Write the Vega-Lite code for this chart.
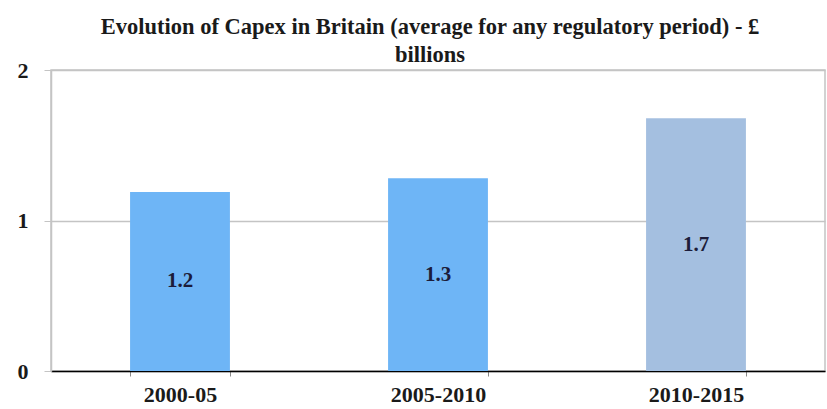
{
  "$schema": "https://vega.github.io/schema/vega-lite/v6.json",
  "width": 774,
  "height": 301,
  "autosize": {"type": "none"},
  "padding": {"left": 51, "top": 70, "right": 2, "bottom": 38},
  "background": "white",
  "title": {
    "text": ["Evolution of Capex in Britain (average for any regulatory period) - £", "billions"],
    "font": "Liberation Serif",
    "fontSize": 22.5,
    "fontWeight": "bold",
    "color": "#1a1a1a",
    "anchor": "middle",
    "dx": -8,
    "offset": -7,
    "lineHeight": 28
  },
  "config": {
    "view": {"stroke": "#c4c4c4", "strokeWidth": 1.5},
    "font": "Liberation Serif",
    "axisY": {
      "labelOverlap": false,
      "labelFont": "Liberation Serif",
      "labelFontSize": 22,
      "labelFontWeight": "bold",
      "labelColor": "#1a1a1a",
      "labelPadding": 16,
      "domainColor": "#c4c4c4",
      "domainWidth": 1.5,
      "tickColor": "#c4c4c4",
      "tickSize": 7,
      "gridColor": "#c4c4c4",
      "gridWidth": 1.5
    }
  },
  "data": {
    "values": [
      {"period": "2000-05", "value": 1.19, "label": "1.2"},
      {"period": "2005-2010", "value": 1.28, "label": "1.3"},
      {"period": "2010-2015", "value": 1.68, "label": "1.7"}
    ]
  },
  "transform": [{"calculate": "datum.value / 2", "as": "mid"}],
  "encoding": {
    "x": {
      "field": "period",
      "type": "nominal",
      "sort": null,
      "title": null,
      "scale": {"paddingInner": 0.613, "paddingOuter": 0.3065},
      "axis": {
        "labelAngle": 0,
        "labelFont": "Liberation Serif",
        "labelFontSize": 22,
        "labelFontWeight": "bold",
        "labelColor": "#1a1a1a",
        "labelPadding": 8,
        "domainColor": "#000000",
        "domainWidth": 1.5,
        "tickBand": "extent",
        "tickColor": "#888888",
        "tickSize": 5,
        "grid": false
      }
    }
  },
  "layer": [
    {
      "mark": {"type": "bar"},
      "encoding": {
        "y": {
          "field": "value",
          "type": "quantitative",
          "title": null,
          "scale": {"domain": [0, 2], "nice": false},
          "axis": {"tickCount": 2, "format": "d"}
        },
        "color": {
          "field": "period",
          "type": "nominal",
          "legend": null,
          "scale": {
            "domain": ["2000-05", "2005-2010", "2010-2015"],
            "range": ["#6eb5f6", "#6eb5f6", "#a4bfe0"]
          }
        }
      }
    },
    {
      "mark": {
        "type": "text",
        "font": "Liberation Serif",
        "fontSize": 21,
        "fontWeight": "bold",
        "color": "#1c1c3a",
        "baseline": "middle"
      },
      "encoding": {
        "y": {
          "field": "mid",
          "type": "quantitative",
          "title": null,
          "axis": {"tickCount": 2, "format": "d"}
        },
        "text": {"field": "label"}
      }
    }
  ]
}
